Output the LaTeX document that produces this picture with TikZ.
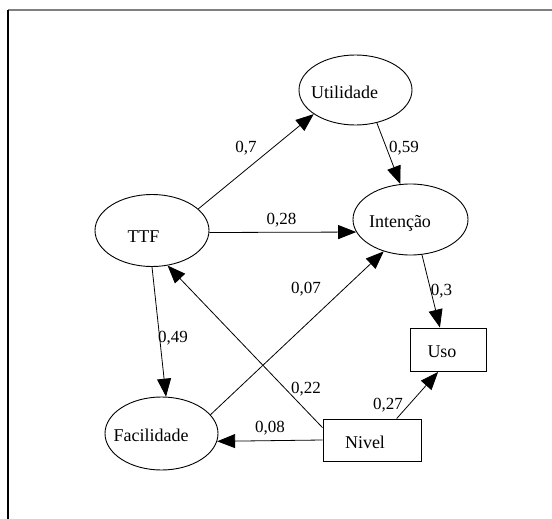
\documentclass[tikz,border=0pt]{standalone}
\usepackage{fontspec}
\setmainfont{Liberation Serif}
\usetikzlibrary{arrows.meta,shapes.geometric}
\begin{document}
\begin{tikzpicture}[x=1pt,y=-1pt,
  ell/.style={draw,ellipse,inner sep=0pt,line width=0.9pt},
  box/.style={draw,rectangle,inner sep=0pt,line width=0.9pt},
  txt/.style={anchor=base,inner sep=0pt,font=\fontsize{18}{20}\selectfont},
  lab/.style={anchor=base,inner sep=0pt,font=\fontsize{17}{19}\selectfont},
  arr/.style={line width=0.8pt,-{Triangle[length=18pt,width=14pt]}}]
\useasboundingbox[fill=white] (0,0) rectangle (552,519);
% frame
\coordinate (c0) at (8,10);
\coordinate (c1) at (552,10);
\coordinate (c2) at (8,519);
\draw[line width=1.3pt,color=black!50] (c0) -- (c1);
\draw[line width=1.6pt] (c0) -- (c2);
% shapes
\node[ell,minimum width=113pt,minimum height=70pt] (u) at (355.5,90) {};
\node[ell,minimum width=115pt,minimum height=71pt] (i) at (410.5,219.5) {};
\node[ell,minimum width=114pt,minimum height=72pt] (t) at (152,230.5) {};
\node[ell,minimum width=113pt,minimum height=73pt] (f) at (161.5,433.5) {};
\node[box,minimum width=76pt,minimum height=43.5pt] (uso) at (448,349.75) {};
\node[box,minimum width=98pt,minimum height=42pt] (nv) at (372,440) {};
% texts
\node[txt] (ut) at (344.5,99) {Utilidade};
\node[txt] (it) at (400,227) {Intenção};
\node[txt] (tt) at (143.5,242) {TTF};
\node[txt] (ft) at (151,441) {Facilidade};
\node[txt] (ust) at (442,357) {Uso};
\node[txt] (nvt) at (365,448) {Nivel};
% connectors
\draw[arr] (t.25) -- (u.210.6);
\draw[arr] (u.-57) -- (i.106.9);
\draw[arr] (t.-2.6) -- (i.193.2);
\draw[arr] (t.-90) -- (f.83);
\draw[arr] (nv.166.2) -- (t.-66.6);
\draw[arr] (f.21.9) -- (i.230.6);
\draw[arr] (i.-72) -- (uso.110.2);
\draw[arr] (nv.41.2) -- (uso.-114.2);
\draw[arr] (nv.west) -- (f.-8.8);
% labels
\node[lab] (l1) at (246,153) {0,7};
\node[lab] (l2) at (404,153) {0,59};
\node[lab] (l3) at (281.5,224) {0,28};
\node[lab] (l4) at (173,342) {0,49};
\node[lab] (l5) at (306,293) {0,07};
\node[lab] (l6) at (306,393) {0,22};
\node[lab] (l7) at (441.5,295) {0,3};
\node[lab] (l8) at (388,409) {0,27};
\node[lab] (l9) at (270,432) {0,08};
\end{tikzpicture}
\end{document}
